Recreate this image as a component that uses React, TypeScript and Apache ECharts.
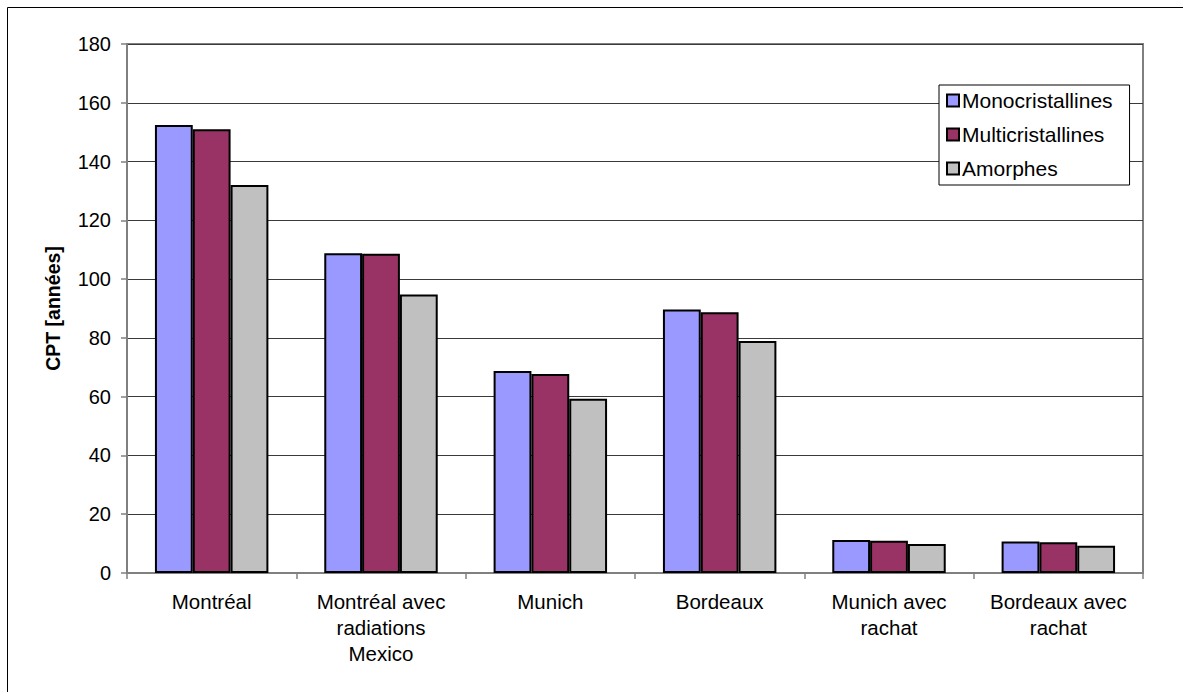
import React, { useEffect, useRef } from "react";
import * as echarts from "echarts";

const categories = [
  "Montréal",
  "Montréal avec\nradiations\nMexico",
  "Munich",
  "Bordeaux",
  "Munich avec\nrachat",
  "Bordeaux avec\nrachat",
];
const seriesNames = ["Monocristallines", "Multicristallines", "Amorphes"];
const mono = [152.4, 108.8, 68.7, 89.7, 11.2, 10.7];
const multi = [151.0, 108.6, 67.7, 88.7, 11.0, 10.5];
const amorph = [132.0, 94.8, 59.3, 78.9, 9.9, 9.3];
const yTicks = { min: 0, max: 180, interval: 20 };
const colors = ["#9999FF", "#993366", "#C0C0C0"];

export default function App() {
  const ref = useRef<HTMLDivElement>(null);
  useEffect(() => {
    if (!ref.current) return;
    const chart = echarts.init(ref.current, null, { renderer: "svg" });
    const font = "'Liberation Sans', Arial, sans-serif";
    const values = [mono, multi, amorph];
    chart.setOption({
      animation: false,
      backgroundColor: "#ffffff",
      textStyle: { fontFamily: font, color: "#000" },
      graphic: [
        {
          type: "rect",
          shape: { x: 7.5, y: 7.5, width: 1200, height: 700 },
          style: { fill: "none", stroke: "#000", lineWidth: 1 },
          silent: true,
          z: 100,
        },
      ],
      grid: {
        left: 127,
        right: 40,
        top: 44,
        bottom: 119,
        show: true,
        borderColor: "#808080",
        borderWidth: 2,
        backgroundColor: "transparent",
      },
      legend: {
        left: 939,
        top: 85,
        orient: "vertical",
        data: seriesNames,
        backgroundColor: "#fff",
        borderColor: "#000",
        borderWidth: 1,
        padding: [5, 17, 6, 7],
        itemWidth: 12,
        itemHeight: 12,
        itemGap: 13,
        icon: "rect",
        textStyle: { fontFamily: font, fontSize: 21, color: "#000", lineHeight: 21, padding: [0, 0, 0, -2] },
      },
      xAxis: {
        type: "category",
        data: categories,
        axisLine: { lineStyle: { color: "#808080", width: 2 } },
        axisTick: { show: true, length: 6, lineStyle: { color: "#808080", width: 1.5 } },
        axisLabel: {
          interval: 0,
          fontSize: 20.5,
          lineHeight: 26,
          margin: 15,
          color: "#000",
          fontFamily: font,
        },
      },
      yAxis: {
        type: "value",
        min: yTicks.min,
        max: yTicks.max,
        interval: yTicks.interval,
        name: "CPT [années]",
        nameLocation: "middle",
        nameRotate: 90,
        nameGap: 64,
        nameTextStyle: { fontFamily: font, fontSize: 19.5, fontWeight: "bold", color: "#000" },
        axisLine: { show: true, lineStyle: { color: "#808080", width: 2 } },
        axisTick: { show: true, length: 6, lineStyle: { color: "#808080", width: 1.5 } },
        axisLabel: { fontSize: 20, margin: 16, color: "#000", fontFamily: font },
        splitLine: { show: true, lineStyle: { color: "#3a3a3a", width: 1 } },
      },
      series: seriesNames.map((name, i) => ({
        name,
        type: "bar",
        data: values[i],
        barGap: "0%",
        barCategoryGap: "33%",
        itemStyle: { color: colors[i], borderColor: "#000", borderWidth: 2 },
      })),
    });
    return () => chart.dispose();
  }, []);
  return (
    <div
      ref={ref}
      style={{ position: "fixed", left: 0, top: 0, width: 1183, height: 692 }}
    />
  );
}
